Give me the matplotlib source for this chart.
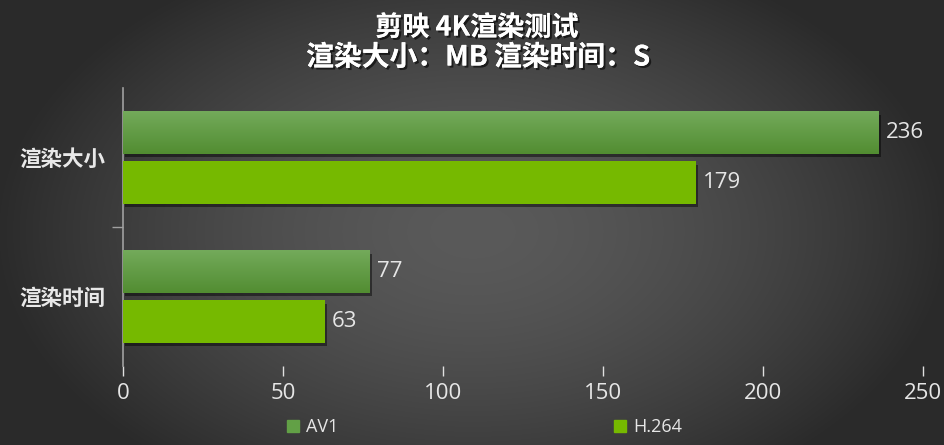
import numpy as np
import matplotlib
matplotlib.use("Agg")
import matplotlib.pyplot as plt
from matplotlib import patheffects as pe
from matplotlib.lines import Line2D

plt.rcParams['font.family'] = ['Noto Sans CJK SC', 'DejaVu Sans']

categories = ['渲染大小', '渲染时间']
series_names = ['AV1', 'H.264']
av1_values = [236, 77]
h264_values = [179, 63]
xticks = [0, 50, 100, 150, 200, 250]
title_line1 = '剪映 4K渲染测试'
title_line2 = '渲染大小：MB 渲染时间：S'

W, H = 945, 445
fig = plt.figure(figsize=(W / 100, H / 100), dpi=100)

# background radial gradient
bg = fig.add_axes([0, 0, 1, 1], zorder=-10)
yy, xx = np.mgrid[0:H, 0:W]
dx = (xx - 0.5 * W) / (0.5 * W)
dy = (yy - 0.52 * H) / (0.5 * H)
r = np.clip(np.sqrt(dx ** 2 + (0.75 * dy) ** 2), 0, 1)
v = (0x5a - (0x5a - 0x2b) * r ** 1.6) / 255.0
bg.imshow(np.dstack([v, v, v]), aspect='auto', extent=[0, 1, 0, 1], origin='upper')
bg.set_axis_off()

ax = fig.add_axes([123.3 / W, (H - 366) / H, 800 / W, 278 / H])
ax.set_facecolor('none')

y = np.arange(len(categories))
off = 0.18
hgt = 0.305
shadow = [pe.withSimplePatchShadow(offset=(1.5, -2.5), shadow_rgbFace='black', alpha=0.45)]

b1 = ax.barh(y - off, av1_values, height=hgt, color='#62a046', zorder=3, label=series_names[0])
b2 = ax.barh(y + off, h264_values, height=hgt, color='#76b900', zorder=3, label=series_names[1])
for p in list(b1) + list(b2):
    p.set_path_effects(shadow)

# gradient for AV1 bars
grad = np.linspace(0, 1, 64)[:, None]
top = np.array([0x73, 0xaa, 0x5b]) / 255.0
bot = np.array([0x52, 0x8d, 0x31]) / 255.0
gimg = (top[None, None, :] * (1 - grad[..., None]) + bot[None, None, :] * grad[..., None])
gimg = np.repeat(gimg, 2, axis=1)
for p in b1:
    x0, y0, w, h = p.get_x(), p.get_y(), p.get_width(), p.get_height()
    im = ax.imshow(gimg, extent=[x0, x0 + w, y0 + h, y0], aspect='auto', zorder=4, origin='upper')
    im.set_clip_path(p)

ax.set_xlim(0, 250)
ax.set_ylim(len(categories) - 0.5, -0.5)

for bars, vals in ((b1, av1_values), (b2, h264_values)):
    for p, val in zip(bars, vals):
        ax.annotate(str(val), (p.get_width(), p.get_y() + p.get_height() / 2),
                    xytext=(5, 0), textcoords='offset points', va='center', ha='left',
                    fontsize=16, color='#e6e6e6', family=['Open Sans', 'DejaVu Sans'], zorder=6)

for s in ['top', 'right', 'bottom']:
    ax.spines[s].set_visible(False)
ax.spines['left'].set_color('#a0a0a0')
ax.spines['left'].set_linewidth(1.2)

ax.set_xticks(xticks)
ax.set_xticklabels([str(t) for t in xticks], family=['Open Sans', 'DejaVu Sans'], fontsize=16, color='#e6e6e6')
ax.tick_params(axis='x', direction='out', length=7, width=1, color='#e0e0e0', pad=5)

ax.set_yticks(y)
ax.set_yticklabels(categories, fontsize=15.5, fontweight='bold', color='#e8e8e8')
ax.tick_params(axis='y', length=0, pad=13)
ax.set_yticks([0.5], minor=True)
ax.tick_params(axis='y', which='minor', length=8, width=1, color='#a0a0a0')

tshadow = [pe.withSimplePatchShadow(offset=(1.5, -1.5), shadow_rgbFace='black', alpha=0.6), pe.Normal()]
fig.text(477 / W, (H - 27.5) / H, title_line1, ha='center', va='center', fontsize=19.5,
         fontweight='bold', color='white', path_effects=tshadow)
fig.text(478 / W, (H - 57.5) / H, title_line2, ha='center', va='center', fontsize=20,
         fontweight='bold', color='white', path_effects=tshadow)

handles = [Line2D([], [], marker='s', linestyle='none', markersize=8, color='#62a046'),
           Line2D([], [], marker='s', linestyle='none', markersize=8, color='#76b900')]
leg = fig.legend(handles, series_names, loc='center', bbox_to_anchor=(484 / W, (H - 427) / H),
                 ncol=2, frameon=False, columnspacing=15.2, handlelength=0.8, handletextpad=0.35,
                 prop={'family': ['Open Sans', 'DejaVu Sans'], 'size': 13})
for t in leg.get_texts():
    t.set_color('#e6e6e6')

fig.savefig('out.png', dpi=100)
